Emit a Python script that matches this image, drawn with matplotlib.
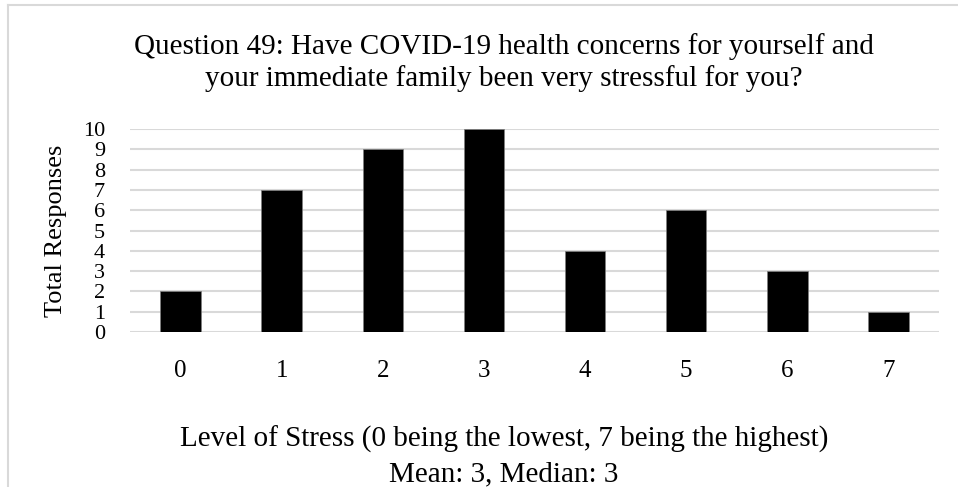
import matplotlib.pyplot as plt
from matplotlib.lines import Line2D

# データ
levels = ['0', '1', '2', '3', '4', '5', '6', '7']
responses = [2, 7, 9, 10, 4, 6, 3, 1]
y_ticks = list(range(0, 11))

title_1 = 'Question 49: Have COVID-19 health concerns for yourself and'
title_2 = 'your immediate family been very stressful for you?'
xlabel_1 = 'Level of Stress (0 being the lowest, 7 being the highest)'
xlabel_2 = 'Mean: 3, Median: 3'

plt.rcParams['font.family'] = ['Liberation Serif', 'DejaVu Serif']

W, H = 958, 487
fig = plt.figure(figsize=(W / 100, H / 100), dpi=100)
ax = fig.add_axes([130 / W, 1 - 332 / H, (939 - 130) / W, (332 - 129) / H])

x = range(len(levels))
ax.bar(x, responses, width=0.4, color='black', edgecolor='#7f7f7f', linewidth=0.5, zorder=3)

ax.set_xlim(-0.5, len(levels) - 0.5)
ax.set_ylim(0, 10)
ax.set_yticks(y_ticks)
ax.set_yticklabels([str(v) for v in y_ticks], fontsize=16)
ax.set_xticks(list(x))
ax.set_xticklabels(levels, fontsize=18)
ax.tick_params(axis='both', length=0)
ax.tick_params(axis='x', pad=20)
ax.tick_params(axis='y', pad=18)
ax.yaxis.grid(True, color='#d9d9d9', linewidth=1.5, zorder=0)
ax.set_axisbelow(True)
for s in ax.spines.values():
    s.set_visible(False)

ax.set_ylabel('Total Responses', fontsize=19)
ax.yaxis.set_label_coords(-(130 - 67) / (939 - 130), 0.5)

# タイトルと軸ラベル（グラフ領域の中心に合わせる）
cx = 504 / W
fig.text(cx, 1 - 54 / H, title_1, ha='center', va='baseline', fontsize=21)
fig.text(cx, 1 - 86 / H, title_2, ha='center', va='baseline', fontsize=21)
fig.text(cx, 1 - 447 / H, xlabel_1, ha='center', va='baseline', fontsize=21)
fig.text(cx, 1 - 481 / H, xlabel_2, ha='center', va='baseline', fontsize=21)

# 外枠
fig.add_artist(Line2D([8 / W, 8 / W], [0, 1 - 5 / H], transform=fig.transFigure,
                      color='#d9d9d9', linewidth=1.5))
fig.add_artist(Line2D([8 / W, 1], [1 - 5 / H, 1 - 5 / H], transform=fig.transFigure,
                      color='#d9d9d9', linewidth=1.5))

fig.savefig('out.png', dpi=100)
